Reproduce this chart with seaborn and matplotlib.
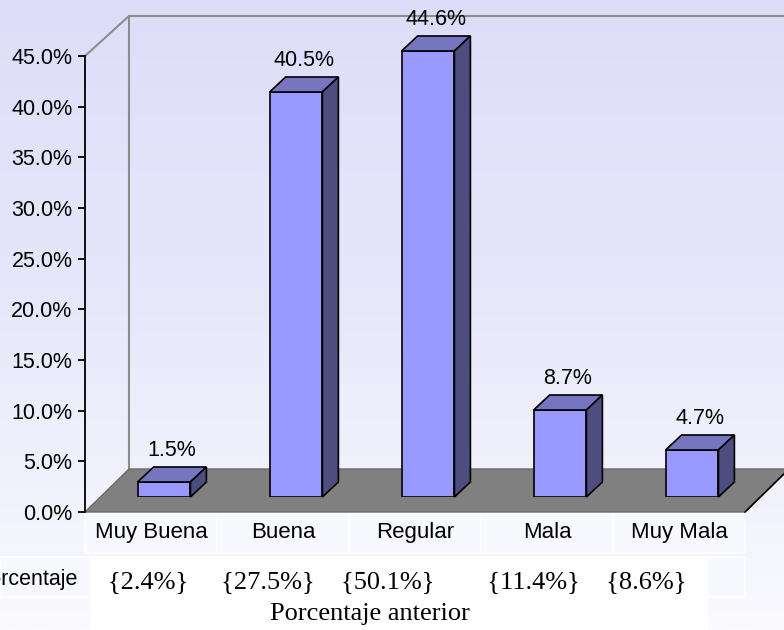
import numpy as np
import pandas as pd
import matplotlib
matplotlib.use("Agg")
import matplotlib.pyplot as plt
import seaborn as sns
from matplotlib.colors import LinearSegmentedColormap
from matplotlib.patches import Polygon, Rectangle
from matplotlib.ticker import FuncFormatter

# Data
categorias = ["Muy Buena", "Buena", "Regular", "Mala", "Muy Mala"]
porcentaje = [1.5, 40.5, 44.6, 8.7, 4.7]
porcentaje_anterior = [2.4, 27.5, 50.1, 11.4, 8.6]
marcas_y = [0, 5, 10, 15, 20, 25, 30, 35, 40, 45]

sns.set_theme(style="white")
plt.rcParams['font.family'] = ['Liberation Sans', 'DejaVu Sans']
plt.rcParams['text.color'] = 'black'
SERIF = ['Liberation Serif', 'DejaVu Serif']

W, H = 784, 630
fig = plt.figure(figsize=(W / 100, H / 100), dpi=100)


def caja(x0, y0, x1, y1):
    """Pixel box (origin top-left) -> figure-fraction rect."""
    return [x0 / W, 1 - y1 / H, (x1 - x0) / W, (y1 - y0) / H]


# Background gradient (lavender -> almost white)
fondo = fig.add_axes([0, 0, 1, 1], zorder=-10)
fondo.imshow(np.linspace(0, 1, 256).reshape(-1, 1), aspect='auto', extent=[0, 1, 0, 1],
             cmap=LinearSegmentedColormap.from_list('fondo', ['#DDDDF9', '#E8E8FB', '#FAFAFF']))
fondo.set_xlim(0, 1)
fondo.set_ylim(0, 1)
fondo.set_axis_off()

# Data-table cells under the floor
for i in range(5):
    r = caja(85 + 132 * i, 513, 85 + 132 * (i + 1), 553)
    fondo.add_patch(Rectangle((r[0], r[1]), r[2], r[3], transform=fig.transFigure,
                              facecolor='#F8F8FF', edgecolor='white', lw=1.2))
r = caja(0, 557, 745, 597)
fondo.add_patch(Rectangle((r[0], r[1]), r[2], r[3], transform=fig.transFigure,
                          facecolor='#F8F8FF', edgecolor='white', lw=1.2))
r = caja(90, 557, 708, 632)
fondo.add_patch(Rectangle((r[0], r[1]), r[2], r[3], transform=fig.transFigure,
                          facecolor='white', edgecolor='none'))

# Front plane: value axis + category labels
ax_y = fig.add_axes(caja(85, 56, 745, 512), zorder=3)
ax_y.set_xlim(-0.5, 4.5)
ax_y.set_ylim(0, 45)
ax_y.patch.set_visible(False)
for s in ['top', 'right', 'bottom']:
    ax_y.spines[s].set_visible(False)
ax_y.spines['left'].set_color('black')
ax_y.spines['left'].set_linewidth(1.3)
ax_y.set_yticks(marcas_y)
ax_y.yaxis.set_major_formatter(FuncFormatter(lambda v, p: f"{v:.1f}%"))
ax_y.tick_params(axis='y', left=True, length=5, width=1.3, color='black',
                 labelsize=15.5, labelcolor='black', pad=4)
ax_y.set_xticks(range(len(categorias)))
ax_y.set_xticklabels(categorias)
ax_y.tick_params(axis='x', bottom=False, length=0, pad=7, labelsize=16, labelcolor='black')

# Bar plane
ax = fig.add_axes(caja(98, 47, 758, 497), zorder=2)
df = pd.DataFrame({'Calificacion': categorias, 'Porcentaje': porcentaje})
sns.barplot(data=df, x='Calificacion', y='Porcentaje', ax=ax, color='#9999FF',
            saturation=1, width=0.4, edgecolor='black', linewidth=1.2, zorder=3)
ax.set_xlim(-0.5, 4.5)
ax.set_ylim(0, 45)
ax.set_axis_off()

# pixel -> data units in the bar plane
ux, uy = 5 / 660, 45 / 450
bx, by = 31 * ux, 28 * uy      # back wall offset
dx, dy = 16 * ux, 15 * uy      # bar depth

a_ax = ax.transData.inverted()
fl = a_ax.transform(ax_y.transData.transform((-0.5, 0)))
fr = a_ax.transform(ax_y.transData.transform((4.5, 0)))
ft = a_ax.transform(ax_y.transData.transform((-0.5, 45)))

# floor
piso = Polygon([fl, fr, (4.5 + bx, by), (-0.5 + bx, by)], closed=True,
               facecolor='#808080', edgecolor='#6A6A6A', lw=1, zorder=1, clip_on=False)
ax.add_patch(piso)
ax.plot([fr[0], 4.5 + bx], [fr[1], by], color='black', lw=1.2, zorder=1.5, clip_on=False)

# back wall outline
ax.plot([-0.5 + bx, -0.5 + bx, 5.0], [by, 45 + by + 0.3, 45 + by + 0.3], color='#8C8C8C',
        lw=1.5, zorder=0.5, clip_on=False)
ax.plot([ft[0], -0.5 + bx], [ft[1], 45 + by + 0.3], color='#8C8C8C', lw=1.5,
        zorder=0.5, clip_on=False)

# 3D faces and value labels
for barra, valor in zip(ax.patches, porcentaje):
    x0, w, h = barra.get_x(), barra.get_width(), barra.get_height()
    tapa = Polygon([(x0, h), (x0 + w, h), (x0 + w + dx, h + dy), (x0 + dx, h + dy)],
                   closed=True, facecolor='#7676C0', edgecolor='black', lw=1.2,
                   zorder=3, clip_on=False)
    lado = Polygon([(x0 + w, 0), (x0 + w + dx, dy), (x0 + w + dx, h + dy), (x0 + w, h)],
                   closed=True, facecolor='#4D4D80', edgecolor='black', lw=1.2,
                   zorder=3, clip_on=False)
    ax.add_patch(tapa)
    ax.add_patch(lado)
    ax.annotate(f"{valor:.1f}%", (x0 + w / 2 + dx / 2, h + dy), xytext=(0, 4),
                textcoords='offset points', ha='center', va='bottom', fontsize=15.5,
                color='black', annotation_clip=False)

# previous percentages text box
separadores = ["     ", "    ", "        ", "    "]
texto = "{" + f"{porcentaje_anterior[0]}%" + "}"
for sep, v in zip(separadores, porcentaje_anterior[1:]):
    texto += sep + "{" + f"{v}%" + "}"
fig.text(108 / W, 1 - 582 / H, texto, family=SERIF, fontsize=19, ha='left',
         va='center', color='black')
fig.text(370 / W, 1 - 614 / H, "Porcentaje anterior", family=SERIF, fontsize=19,
         ha='center', va='center', color='black')
fig.text(78 / W, 1 - 580 / H, "Porcentaje", fontsize=15.5, ha='right', va='center',
         color='black')

fig.savefig('out.png', dpi=100)
plt.close(fig)
